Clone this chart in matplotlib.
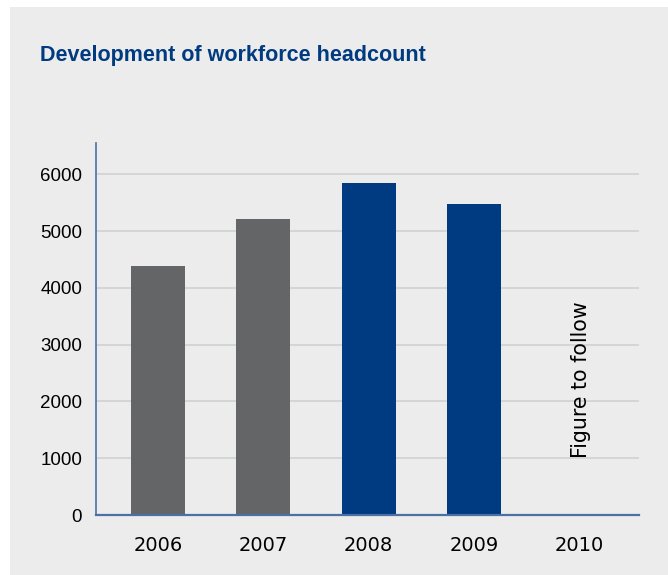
import matplotlib
matplotlib.use('Agg')
import matplotlib.pyplot as plt
from matplotlib.patches import Rectangle

# headcount per year (2010 not yet available)
years = ['2006', '2007', '2008', '2009', '2010']
headcount = [4390, 5210, 5850, 5480, 0]
bar_colors = ['#646566', '#646566', '#003a80', '#003a80', '#003a80']
yticks = [0, 1000, 2000, 3000, 4000, 5000, 6000]

plt.rcParams['font.family'] = ['Liberation Sans', 'DejaVu Sans']

bg = '#ebeceb'
blue = '#003a80'
axis_blue = '#4a70a6'

fig = plt.figure(figsize=(6.68, 5.75), dpi=100, facecolor='white')
# grey panel behind the chart
fig.patches.append(Rectangle((10 / 668, 0), 1, 1 - 7 / 575, transform=fig.transFigure,
                             facecolor=bg, edgecolor='none', zorder=-10))

ax = fig.add_axes([96 / 668, 1 - 515 / 575, (639 - 96) / 668, (515 - 143) / 575])
ax.set_facecolor(bg)

x = list(range(len(years)))
ax.bar(x[:4], headcount[:4], width=0.513, color=bar_colors[:4], zorder=3)

ax.set_xlim(-0.59, 4.57)
ax.set_ylim(0, 6550)
ax.set_yticks(yticks)
ax.set_yticklabels([str(v) for v in yticks], fontsize=13.5)
ax.set_xticks(x)
ax.set_xticklabels(years, fontsize=14, family='DejaVu Sans')

for v in yticks[1:]:
    ax.axhline(v, color='#d0d1d1', lw=1.2, zorder=1)

for s in ['top', 'right']:
    ax.spines[s].set_visible(False)
ax.spines['left'].set_color(axis_blue)
ax.spines['left'].set_linewidth(1.2)
ax.spines['bottom'].set_color(axis_blue)
ax.spines['bottom'].set_linewidth(1.6)
ax.spines['bottom'].set_zorder(4)

ax.tick_params(axis='both', length=0, colors='black')
ax.tick_params(axis='y', pad=10)
ax.tick_params(axis='x', pad=15)

ax.text(4.02, 1000, 'Figure to follow', rotation=90, ha='center', va='bottom',
        fontsize=14.8, family='DejaVu Sans', color='black', zorder=4)

fig.text(40 / 668, 1 - 61 / 575, 'Development of workforce headcount',
         fontsize=15.5, fontweight='bold', color=blue, va='baseline', ha='left')

fig.savefig('out.png', dpi=100, facecolor=fig.get_facecolor())
